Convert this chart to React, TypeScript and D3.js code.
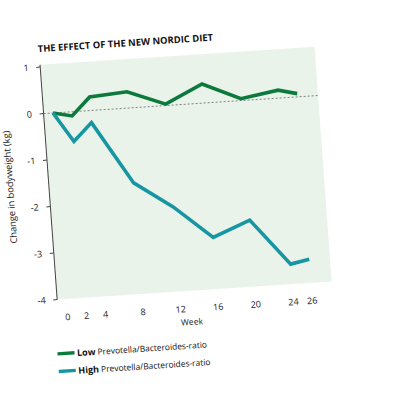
import React from 'react';
import * as d3 from 'd3';

const weeks = [0, 2, 4, 8, 12, 16, 20, 24, 26];
const lowRatio = [0, -0.09, 0.29, 0.35, 0.03, 0.41, 0.04, 0.17, 0.07];
const highRatio = [0, -0.64, -0.26, -1.61, -2.18, -2.89, -2.57, -3.57, -3.49];
const yTicks = [1, 0, -1, -2, -3, -4];
const seriesNames = ['Low', 'High'];
const seriesColors = ['#0c7a3c', '#1696a3'];

const W = 415;
const H = 415;
const font = '"Open Sans", "DejaVu Sans", sans-serif';

const App: React.FC = () => {
  // flat chart frame, then skewed a little like the photographed page
  const x = d3.scaleLinear().domain([0, 26]).range([53, 53 + 9.4 * 26]);
  const y = d3.scaleLinear().domain([-4, 1]).range([299, 66.5]);

  const line = d3.line<[number, number]>()
    .x(d => x(d[0]))
    .y(d => y(d[1]))
    .curve(d3.curveLinear);

  const series = [lowRatio, highRatio].map(vals =>
    weeks.map((w, i) => [w, vals[i]] as [number, number]));

  const left = x(-1);
  const right = x(28.2);
  const top = y(1.05);
  const bottom = y(-4);

  return (
    <svg width={W} height={H} style={{ position: 'absolute', left: 0, top: 0, background: '#fff' }}
      fontFamily={font}>
      <g transform="matrix(1,-0.066,0.073,1,-8.25,3.5)">
        <text x={42.5} y={51.5} fontSize={9.4} fontWeight="bold" fill="#111">
          THE EFFECT OF THE NEW NORDIC DIET
        </text>

        <rect x={left} y={top} width={right - left} height={bottom - top} fill="#eaf3ea" />

        <line x1={left} x2={right} y1={y(0)} y2={y(0)} stroke="#777" strokeWidth={0.9}
          strokeDasharray="2,2" />

        <line x1={left} x2={left} y1={top} y2={bottom} stroke="#444" strokeWidth={1} />
        {yTicks.map(t => (
          <g key={t}>
            <line x1={left - 4} x2={left} y1={y(t)} y2={y(t)} stroke="#444" strokeWidth={1} />
            <text x={32} y={y(t)} dy="0.35em" textAnchor="end" fontSize={9} fill="#222">
              {t}
            </text>
          </g>
        ))}

        {weeks.map(w => (
          <text key={w} x={x(w)} y={bottom + 21} textAnchor="middle" fontSize={9} fill="#222">
            {w}
          </text>
        ))}
        <text x={x(13.1)} y={bottom + 34} textAnchor="middle" fontSize={8.5} fill="#222">Week</text>

        <text transform={`translate(8,184) rotate(-90)`} textAnchor="middle" fontSize={9.2} fill="#222">
          Change in bodyweight (kg)
        </text>

        {series.map((pts, i) => (
          <path key={i} d={line(pts) || ''} fill="none" stroke={seriesColors[i]} strokeWidth={3.6}
            strokeLinejoin="miter" />
        ))}

        {seriesNames.map((name, i) => (
          <g key={name} transform={`translate(40,${353 + i * 17.6})`}>
            <line x1={0} x2={17} y1={0} y2={0} stroke={seriesColors[i]} strokeWidth={3.4} />
            <text x={19.5} y={3.5} fontSize={8.4} fill="#111">
              <tspan fontWeight="bold" fontSize={9}>{name}</tspan>
              <tspan> Prevotella/Bacteroides-ratio</tspan>
            </text>
          </g>
        ))}
      </g>
    </svg>
  );
};

export default App;
